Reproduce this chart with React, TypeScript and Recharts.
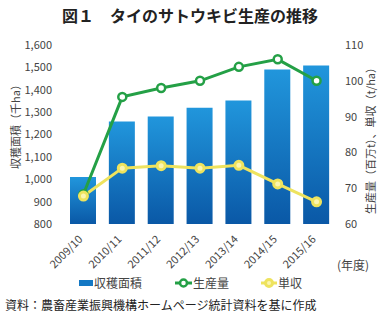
import { ComposedChart, Bar, Line, XAxis, YAxis } from 'recharts'

// 年度
const years = ['2009/10', '2010/11', '2011/12', '2012/13', '2013/14', '2014/15', '2015/16']
// 収穫面積（千ha）
const area = [1010, 1258, 1280, 1320, 1352, 1490, 1508]
// 生産量（百万t）
const production = [68.3, 95.5, 98.0, 100.0, 103.9, 106.0, 100.0]
// 単収（t/ha）
const yieldPerHa = [67.8, 75.6, 76.3, 75.6, 76.4, 71.2, 66.2]

const leftTicks = [800, 900, 1000, 1100, 1200, 1300, 1400, 1500, 1600]
const rightTicks = [60, 70, 80, 90, 100, 110]

const data = years.map((year, i) => ({
  year,
  area: area[i],
  production: production[i],
  yieldPerHa: yieldPerHa[i],
}))

const FONT = '"Noto Sans CJK JP", "Noto Sans", sans-serif'
const BLUE = '#1478c4'
const GREEN = '#24a046'
const YELLOW = '#eee35e'

// 斜めの年度ラベル
function YearTick({ x, y, payload }: any) {
  return (
    <text
      x={x}
      y={y}
      dy={8}
      textAnchor="end"
      fontSize={11}
      fill="#444"
      fontFamily={FONT}
      transform={`rotate(-45, ${x}, ${y + 8})`}
    >
      {payload.value}
    </text>
  )
}

const abs = (left: number, top: number, extra: any = {}) => ({
  position: 'absolute' as const,
  left,
  top,
  fontFamily: FONT,
  whiteSpace: 'nowrap' as const,
  lineHeight: 1,
  ...extra,
})

export default function App() {
  return (
    <div style={{ position: 'absolute', left: 0, top: 0, width: 380, height: 322, background: '#fff', overflow: 'hidden' }}>
      <div style={abs(0, 7, { width: 380, textAlign: 'center', fontSize: 16, fontWeight: 'bold', color: '#222' })}>
        図１　タイのサトウキビ生産の推移
      </div>

      <ComposedChart
        width={380}
        height={322}
        data={data}
        margin={{ top: 45, right: 14, left: 14, bottom: 48 }}
        style={{ position: 'absolute', left: 0, top: 0 }}
      >
        <defs>
          <linearGradient id="barFill" x1="0" y1="0" x2="0" y2="1">
            <stop offset="0%" stopColor="#2196dc" />
            <stop offset="100%" stopColor="#0a58a6" />
          </linearGradient>
        </defs>

        <XAxis
          dataKey="year"
          tick={<YearTick />}
          tickLine={false}
          axisLine={false}
          interval={0}
          height={50}
        />

        <YAxis
          yAxisId="left"
          domain={[800, 1600]}
          ticks={leftTicks}
          tickFormatter={(v) => Number(v).toLocaleString('en-US')}
          tick={{ fontSize: 11, fill: '#444', fontFamily: FONT }}
          tickLine={false}
          axisLine={false}
          tickMargin={6}
          width={50}
        />

        <YAxis
          yAxisId="right"
          orientation="right"
          domain={[60, 110]}
          ticks={rightTicks}
          tick={{ fontSize: 11, fill: '#444', fontFamily: FONT, textAnchor: 'start' }}
          tickLine={false}
          axisLine={false}
          tickMargin={3}
          width={30}
        />

        <Bar yAxisId="left" dataKey="area" fill="url(#barFill)" barSize={26} isAnimationActive={false} />

        <Line
          yAxisId="right"
          dataKey="production"
          stroke={GREEN}
          strokeWidth={3}
          dot={{ r: 4, fill: '#fff', stroke: GREEN, strokeWidth: 2.5 }}
          isAnimationActive={false}
        />

        <Line
          yAxisId="right"
          dataKey="yieldPerHa"
          stroke={YELLOW}
          strokeWidth={3}
          dot={{ r: 4, fill: '#fbf5b0', stroke: YELLOW, strokeWidth: 3 }}
          isAnimationActive={false}
        />
      </ComposedChart>

      {/* 軸タイトル */}
      <div style={abs(15, 124, { fontSize: 11, color: '#444', transform: 'translate(-50%, -50%) rotate(-90deg)' })}>
        収穫面積（千ha）
      </div>
      <div style={abs(370, 138, { fontSize: 11, color: '#444', transform: 'translate(-50%, -50%) rotate(-90deg)' })}>
        生産量（百万t）、単収（t/ha）
      </div>
      <div style={abs(337, 259, { fontSize: 12, color: '#444' })}>(年度)</div>

      {/* 凡例 */}
      <div style={abs(79, 277, { fontSize: 12, color: '#444', display: 'flex', alignItems: 'center' })}>
        <span style={{ display: 'inline-block', width: 14, height: 6, background: BLUE, marginRight: 1 }} />
        収穫面積
      </div>
      <div style={abs(175, 277, { fontSize: 12, color: '#444', display: 'flex', alignItems: 'center' })}>
        <svg width={17} height={12} style={{ marginRight: 1 }}>
          <line x1={0} y1={6} x2={17} y2={6} stroke={GREEN} strokeWidth={3} />
          <circle cx={8.5} cy={6} r={3.5} fill="#fff" stroke={GREEN} strokeWidth={2.5} />
        </svg>
        生産量
      </div>
      <div style={abs(261, 277, { fontSize: 12, color: '#444', display: 'flex', alignItems: 'center' })}>
        <svg width={16} height={12} style={{ marginRight: 1 }}>
          <line x1={0} y1={6} x2={16} y2={6} stroke={YELLOW} strokeWidth={3} />
          <circle cx={8} cy={6} r={3.5} fill="#fbf5b0" stroke={YELLOW} strokeWidth={3} />
        </svg>
        単収
      </div>

      {/* 出典 */}
      <div style={abs(5, 299, { fontSize: 12, color: '#222' })}>
        資料：農畜産業振興機構ホームページ統計資料を基に作成
      </div>
    </div>
  )
}
